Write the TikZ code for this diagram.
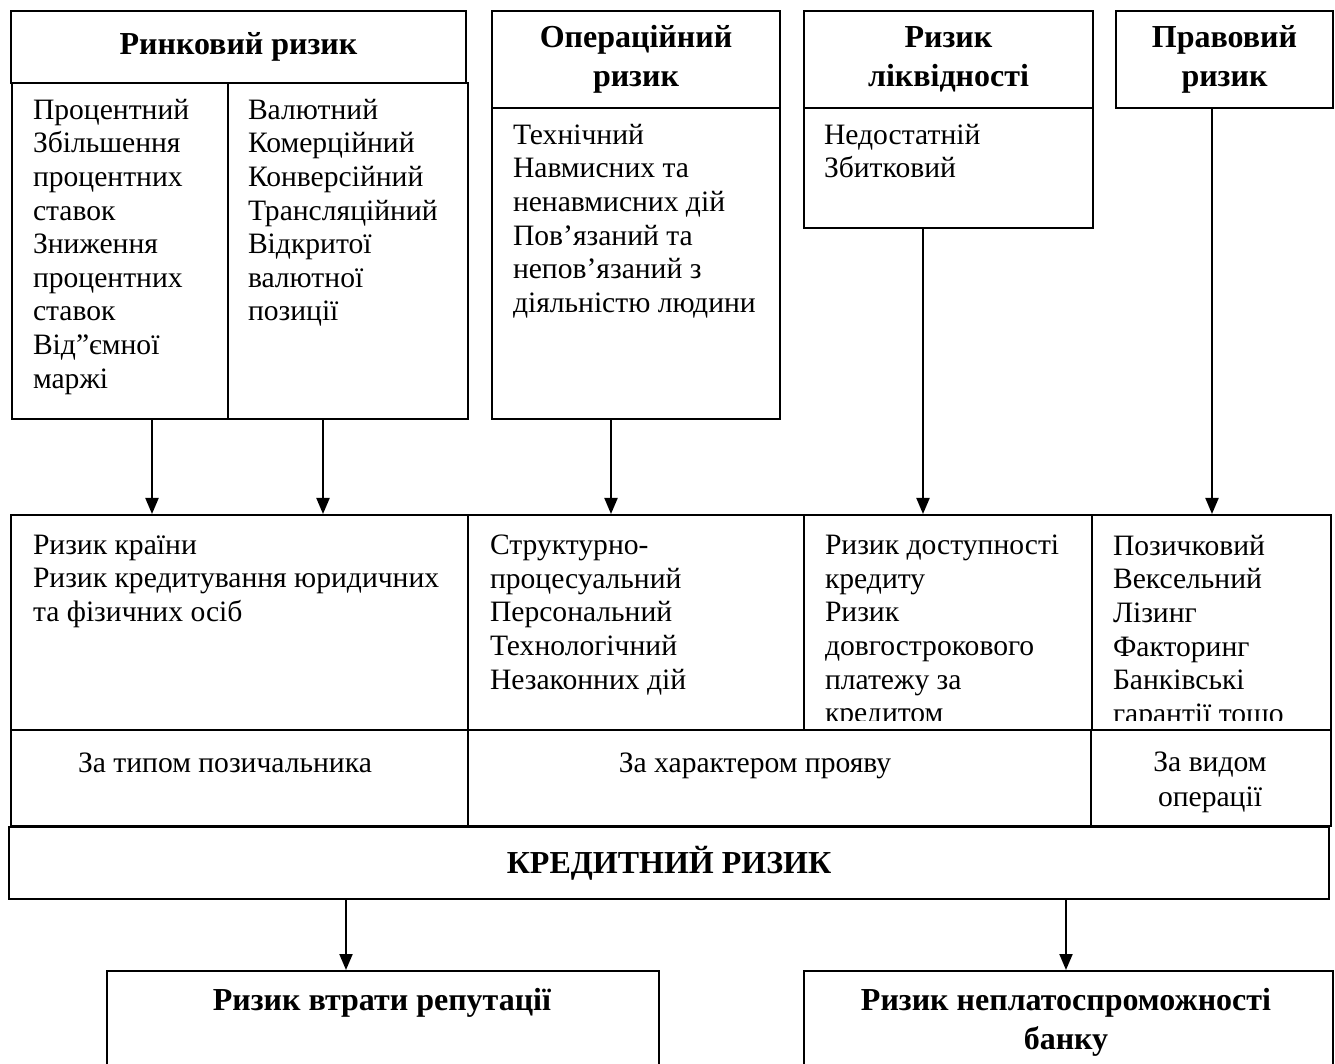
\documentclass[tikz,border=0pt]{standalone}
\usepackage{fontspec}
\setmainfont{Liberation Serif}
\usepackage{tikz}
\usetikzlibrary{arrows.meta}
\tikzstyle{head}=[rectangle,draw=black,anchor=north west,inner sep=0mm,align=center,font=\fontsize{16}{19.5}\selectfont\bfseries]
\tikzstyle{cell}=[rectangle,draw=black,anchor=north west,inner sep=0mm]
\tikzstyle{txt}=[anchor=north west,inner sep=0mm,align=left,font=\fontsize{14.8}{16.8}\selectfont]
\tikzstyle{lbl}=[inner sep=0mm,align=center,font=\fontsize{14.8}{17.5}\selectfont]
\tikzstyle{blbl}=[inner sep=0mm,align=center,font=\fontsize{16}{19.5}\selectfont\bfseries]
\tikzstyle{arrow}=[-{Triangle[length=8pt,width=6.5pt]}]
\tikzset{every picture/.style={
    line width=1
  }
}

\begin{document}
\begin{tikzpicture}[x=0.5pt,y=-0.5pt]
      \useasboundingbox (0,0) rectangle (1335,1064);
      \clip (0,0) rectangle (1335,1064);
      \coordinate (x1) at (152,0);
      \coordinate (x2) at (323,0);
      \coordinate (x3) at (611,0);
      \coordinate (x4) at (923,0);
      \coordinate (x5) at (1212,0);
      \coordinate (x6) at (346,0);
      \coordinate (x7) at (1066,0);

      \node[head,minimum width=227.5pt,minimum height=36pt] at (10,10) (hMkt) {Ринковий ризик};
      \node[head,minimum width=144pt,minimum height=48.5pt] at (491,10) (hOp) {Операційний\\ризик};
      \node[head,minimum width=144.5pt,minimum height=48.5pt] at (803,10) (hLiq) {Ризик\\ліквідності};
      \node[head,minimum width=108.5pt,minimum height=48.5pt] at (1115,10) (hLaw) {Правовий\\ризик};

      \node[cell,minimum width=108pt,minimum height=168pt] at (11,82) (bMktL) {};
      \node[cell,minimum width=120pt,minimum height=168pt] at (227,82) (bMktR) {};
      \node[cell,minimum width=144pt,minimum height=155.5pt] at (491,107) (bOp) {};
      \node[cell,minimum width=144.5pt,minimum height=60pt] at (803,107) (bLiq) {};

      \node[txt] at (32,98) (tMktL) {Процентний\\Збільшення\\процентних\\ставок\\Зниження\\процентних\\ставок\\Від”ємної\\маржі};
      \node[txt] at (247,98) (tMktR) {Валютний\\Комерційний\\Конверсійний\\Трансляційний\\Відкритої\\валютної\\позиції};
      \node[txt] at (512,123) (tOp) {Технічний\\Навмисних та\\ненавмисних дій\\Пов’язаний та\\непов’язаний з\\діяльністю людини};
      \node[txt] at (823,123) (tLiq) {Недостатній\\Збитковий};

      \node[cell,minimum width=228.5pt,minimum height=107.5pt] at (10,514) (mA) {};
      \node[cell,minimum width=168pt,minimum height=107.5pt] at (467,514) (mB) {};
      \node[cell,minimum width=144pt,minimum height=107.5pt] at (803,514) (mC) {};
      \node[cell,minimum width=119.5pt,minimum height=107.5pt] at (1091,514) (mD) {};
      \begin{scope}
        \clip (10,514) rectangle (1330,720);
        \node[txt] at (32,534) (tA) {Ризик країни\\Ризик кредитування юридичних\\та фізичних осіб};
        \node[txt] at (489,534) (tB) {Структурно-\\процесуальний\\Персональний\\Технологічний\\Незаконних дій};
        \node[txt] at (824,534) (tC) {Ризик доступності\\кредиту\\Ризик\\довгострокового\\платежу за\\кредитом};
        \node[txt] at (1112,534) (tD) {Позичковий\\Вексельний\\Лізинг\\Факторинг\\Банківські\\гарантії тощо};
      \end{scope}

      \node[cell,minimum width=228.5pt,minimum height=48pt] at (10,729) (zA) {};
      \node[cell,minimum width=311.5pt,minimum height=48pt] at (467,729) (zB) {};
      \node[cell,minimum width=120pt,minimum height=48pt] at (1090,729) (zC) {};
      \node[lbl,anchor=base] at (225,772) (lA) {За типом позичальника};
      \node[lbl,anchor=base] at (755,772) (lB) {За характером прояву};
      \node[lbl] at (1210,782) (lC) {За видом\\операції};

      \node[head,minimum width=660pt,minimum height=36pt] at (8,826) (kr) {КРЕДИТНИЙ РИЗИК};

      \node[cell,minimum width=276pt,minimum height=55pt] at (106,970) (rep) {};
      \node[cell,minimum width=264.5pt,minimum height=55pt] at (803,970) (ins) {};
      \node[blbl] at (382,1003) (lRep) {Ризик втрати репутації};
      \node[blbl] at (1066,1022) (lIns) {Ризик неплатоспроможності\\банку};

      \draw[arrow] (bMktL.south -| x1) -- (mA.north -| x1);
      \draw[arrow] (bMktR.south -| x2) -- (mA.north -| x2);
      \draw[arrow] (bOp.south -| x3) -- (mB.north -| x3);
      \draw[arrow] (bLiq.south -| x4) -- (mC.north -| x4);
      \draw[arrow] (hLaw.south -| x5) -- (mD.north -| x5);
      \draw[arrow] (kr.south -| x6) -- (rep.north -| x6);
      \draw[arrow] (kr.south -| x7) -- (ins.north -| x7);
    \end{tikzpicture}
\end{document}
